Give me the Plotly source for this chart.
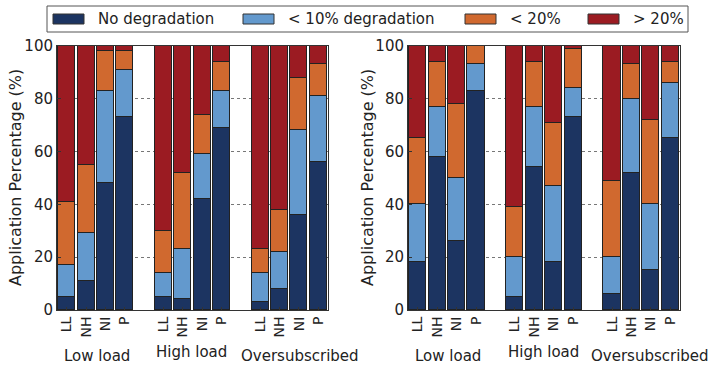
import plotly.graph_objects as go
from plotly.subplots import make_subplots

# Scenario groups and scheduling policies
groups = ["Low load", "High load", "Oversubscribed"]
policies = ["LL", "NH", "NI", "P"]

series_names = ["No degradation", "< 10% degradation", "< 20%", "> 20%"]
colors = ["#1c3461", "#6399cd", "#d0692f", "#9b1b22"]

# Left panel: percentage of applications per degradation class
# (order within each group: LL, NH, NI, P)
left_none = [5, 11, 48, 73, 5, 4, 42, 69, 3, 8, 36, 56]
left_lt10 = [12, 18, 35, 18, 9, 19, 17, 14, 11, 14, 32, 25]
left_lt20 = [24, 26, 15, 7, 16, 29, 15, 11, 9, 16, 20, 12]
left_gt20 = [59, 45, 2, 2, 70, 48, 26, 6, 77, 62, 12, 7]

# Right panel
right_none = [18, 58, 26, 83, 5, 54, 18, 73, 6, 52, 15, 65]
right_lt10 = [22, 19, 24, 10, 15, 23, 29, 11, 14, 28, 25, 21]
right_lt20 = [25, 17, 28, 7, 19, 17, 24, 15, 29, 13, 32, 8]
right_gt20 = [35, 6, 22, 0, 61, 6, 29, 1, 51, 7, 28, 6]

y_ticks = [0, 20, 40, 60, 80, 100]
y_title = "Application Percentage (%)"

W, H = 708, 366
font = "DejaVu Sans, sans-serif"
text_color = "#222222"

# Bar slots: four bars per group with one empty slot between groups
positions = [g * 5 + p for g in range(len(groups)) for p in range(len(policies))]
tick_text = [p for _ in groups for p in policies]

fig = make_subplots(rows=1, cols=2)

panels = [
    (1, [left_none, left_lt10, left_lt20, left_gt20]),
    (2, [right_none, right_lt10, right_lt20, right_gt20]),
]
for col, series in panels:
    for name, color, vals in zip(series_names, colors, series):
        fig.add_trace(
            go.Bar(
                x=positions,
                y=vals,
                name=name,
                marker=dict(color=color, line=dict(color="#222222", width=1)),
                width=0.88,
                showlegend=False,
            ),
            row=1, col=col,
        )

axis_common = dict(
    showline=True, linecolor="#333333", linewidth=1, mirror=True,
    automargin=False,
)
for col, dom in [(1, [57 / W, 328 / W]), (2, [408 / W, 680 / W])]:
    fig.update_xaxes(
        domain=dom, range=[-0.5, 13.5], tickmode="array",
        tickvals=positions, ticktext=tick_text, tickangle=-90,
        ticks="inside", ticklen=3, tickcolor="#333333",
        tickfont=dict(family=font, size=14, color=text_color),
        showgrid=False, zeroline=False, **axis_common, row=1, col=col,
    )
    fig.update_yaxes(
        domain=[1 - 310 / H, 1 - 46 / H], range=[0, 100],
        tickmode="array", tickvals=y_ticks,
        ticks="inside", ticklen=4, tickcolor="#333333",
        tickfont=dict(family=font, size=15, color=text_color),
        showgrid=True, gridcolor="#777777", griddash="dot", gridwidth=1,
        zeroline=False,
        **axis_common, row=1, col=col,
    )

# Vertical axis titles, one per panel
for tx in [15, 367]:
    fig.add_annotation(
        x=tx / W, y=1 - 178 / H, xref="paper", yref="paper",
        text=y_title, textangle=-90, showarrow=False,
        xanchor="center", yanchor="middle",
        font=dict(family=font, size=16, color=text_color),
    )

# Group labels under each block of bars
label_spec = [
    ("x", [1.57, 6.47, 12.05]),
    ("x2", [1.57, 6.47, 11.95]),
]
label_y = [1 - 356 / H, 1 - 352 / H, 1 - 356 / H]
for xref, centers in label_spec:
    for g, cx, gy in zip(groups, centers, label_y):
        fig.add_annotation(
            x=cx, y=gy, xref=xref, yref="paper", text=g, showarrow=False,
            font=dict(family=font, size=15, color=text_color),
            xanchor="center", yanchor="middle",
        )

# Shared legend across the top: framed box with wide colour patches
shapes = [dict(type="rect", xref="paper", yref="paper",
               x0=47 / W, x1=688 / W, y0=1 - 32 / H, y1=1 - 6 / H,
               line=dict(color="#555555", width=1), fillcolor="white")]
patch_x = [53, 243, 465, 588]
for name, color, px in zip(series_names, colors, patch_x):
    shapes.append(dict(type="rect", xref="paper", yref="paper",
                       x0=px / W, x1=(px + 31) / W,
                       y0=1 - 24 / H, y1=1 - 14 / H,
                       line=dict(color="#333333", width=1), fillcolor=color))
    fig.add_annotation(
        x=(px + 43) / W, y=1 - 19 / H, xref="paper", yref="paper",
        text=name, showarrow=False, xanchor="left", yanchor="middle",
        font=dict(family=font, size=15, color=text_color),
    )

fig.update_layout(
    width=W, height=H,
    margin=dict(l=0, r=0, t=0, b=0),
    barmode="stack",
    bargap=0,
    plot_bgcolor="white", paper_bgcolor="white",
    font=dict(family=font, color=text_color),
    shapes=shapes,
    showlegend=False,
)

fig.write_html("out.html")
